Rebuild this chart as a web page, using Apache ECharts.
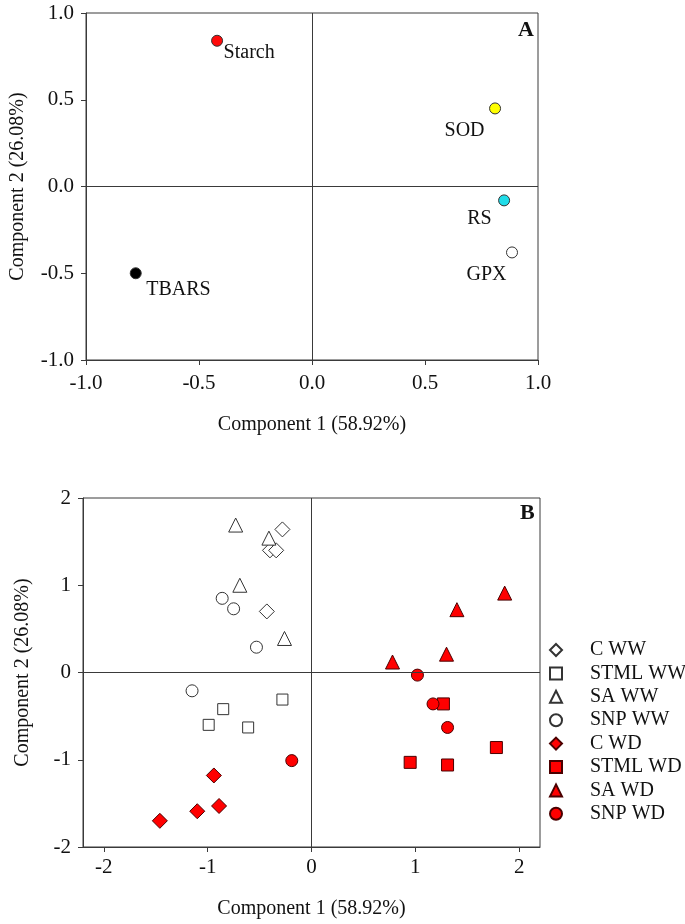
<!DOCTYPE html>
<html>
<head>
<meta charset="utf-8">
<script src="https://cdn.jsdelivr.net/npm/echarts@6/dist/echarts.min.js"></script>
<style>
html,body{margin:0;padding:0;background:#fff;}
#c{width:685px;height:924px;}
</style>
</head>
<body>
<div id="c"></div>
<script>
// ---------- Panel A: variable loadings ----------
const loadNames = ['Starch', 'SOD', 'RS', 'GPX', 'TBARS'];
const loadX = [-0.42, 0.81, 0.85, 0.885, -0.78];
const loadY = [0.84, 0.45, -0.08, -0.38, -0.50];

// ---------- Panel B: scores ----------
const groupNames = ['C WW', 'STML WW', 'SA WW', 'SNP WW', 'C WD', 'STML WD', 'SA WD', 'SNP WD'];
const cWW_x = [-0.28, -0.40, -0.34, -0.43];
const cWW_y = [1.64, 1.40, 1.40, 0.70];
const stmlWW_x = [-0.28, -0.85, -0.99, -0.61];
const stmlWW_y = [-0.31, -0.42, -0.60, -0.63];
const saWW_x = [-0.73, -0.41, -0.69, -0.26];
const saWW_y = [1.69, 1.54, 1.00, 0.39];
const snpWW_x = [-0.86, -0.75, -0.53, -1.15];
const snpWW_y = [0.85, 0.73, 0.29, -0.21];
const cWD_x = [-0.94, -0.89, -1.10, -1.46];
const cWD_y = [-1.18, -1.53, -1.59, -1.70];
const stmlWD_x = [1.27, 0.95, 1.31, 1.78];
const stmlWD_y = [-0.36, -1.03, -1.06, -0.86];
const saWD_x = [1.86, 1.40, 1.30, 0.78];
const saWD_y = [0.91, 0.72, 0.21, 0.12];
const snpWD_x = [1.02, 1.17, 1.31, -0.19];
const snpWD_y = [-0.03, -0.36, -0.63, -1.01];

const xTicksB = [-2, -1, 0, 1, 2];

// ---------- styles ----------
const FONT = 'Liberation Serif, Times New Roman, serif';
const AXC = '#3a3a3a';
const loadColors = ['#ff0a0a', '#ffff00', '#20dce8', '#ffffff', '#000000'];
const loadLabel = [
  {position: [12.5, 17.5], align: 'left'},
  {position: [-4.5, 28.5], align: 'right'},
  {position: [-6.5, 24.5], align: 'right'},
  {position: [0.5, 28.5], align: 'right'},
  {position: [16.5, 22.5], align: 'left'}
];
const groupSymbol = ['diamond', 'rect', 'triangle', 'circle', 'diamond', 'rect', 'triangle', 'circle'];
const groupSize = [15, 11, 14, 12, 15, 12, 14, 12];
const groupFill = ['#ffffff', '#ffffff', '#ffffff', '#ffffff', '#ff0000', '#ff0000', '#ff0000', '#ff0000'];
const groupBorder = ['#333', '#333', '#333', '#333', '#4a0000', '#4a0000', '#4a0000', '#4a0000'];

const groupX = [cWW_x, stmlWW_x, saWW_x, snpWW_x, cWD_x, stmlWD_x, saWD_x, snpWD_x];
const groupY = [cWW_y, stmlWW_y, saWW_y, snpWW_y, cWD_y, stmlWD_y, saWD_y, snpWD_y];

const zeroLines = {
  silent: true, symbol: 'none', animation: false,
  label: {show: false},
  lineStyle: {color: AXC, width: 1, type: 'solid'},
  emphasis: {disabled: true},
  data: [{xAxis: 0}, {yAxis: 0}]
};

function axisBase() {
  return {
    type: 'value',
    axisLine: {show: true, onZero: false, lineStyle: {color: AXC, width: 1}},
    axisTick: {show: true, inside: false, length: 5, lineStyle: {color: AXC}},
    splitLine: {show: false},
    axisLabel: {color: '#111', fontFamily: FONT, fontSize: 21},
    nameTextStyle: {color: '#111', fontFamily: FONT, fontSize: 20},
    nameLocation: 'middle'
  };
}

const xA = Object.assign(axisBase(), {
  gridIndex: 0, min: -1, max: 1, interval: 0.5,
  name: 'Component 1 (58.92%)', nameGap: 55
});
xA.axisLabel = Object.assign({}, xA.axisLabel, {margin: 13, formatter: v => v.toFixed(1)});

const yA = Object.assign(axisBase(), {
  gridIndex: 0, min: -1, max: 1, interval: 0.5,
  name: 'Component 2 (26.08%)', nameGap: 58
});
yA.axisLabel = Object.assign({}, yA.axisLabel, {margin: 12, formatter: v => v.toFixed(1)});

const xB = Object.assign(axisBase(), {
  gridIndex: 1, min: -2.2, max: 2.2,
  name: 'Component 1 (58.92%)', nameGap: 52
});
xB.axisTick = Object.assign({}, xB.axisTick, {customValues: xTicksB});
xB.axisLabel = Object.assign({}, xB.axisLabel, {margin: 10, customValues: xTicksB});

const yB = Object.assign(axisBase(), {
  gridIndex: 1, min: -2, max: 2, interval: 1,
  name: 'Component 2 (26.08%)', nameGap: 50
});
yB.axisLabel = Object.assign({}, yB.axisLabel, {margin: 12});

const series = [];
series.push({
  type: 'scatter', xAxisIndex: 0, yAxisIndex: 0,
  symbol: 'circle', symbolSize: 11,
  itemStyle: {borderColor: '#333', borderWidth: 1, opacity: 1},
  label: {show: true, formatter: '{b}', fontFamily: FONT, fontSize: 20, color: '#111', verticalAlign: 'middle'},
  data: loadNames.map((n, i) => ({
    name: n, value: [loadX[i], loadY[i]],
    itemStyle: {color: loadColors[i]},
    label: {position: loadLabel[i].position, align: loadLabel[i].align}
  })),
  markLine: zeroLines,
  animation: false
});

groupNames.forEach((g, k) => {
  const s = {
    type: 'scatter', name: g, xAxisIndex: 1, yAxisIndex: 1,
    symbol: groupSymbol[k], symbolSize: groupSize[k],
    itemStyle: {color: groupFill[k], borderColor: groupBorder[k], borderWidth: 1, opacity: 1},
    data: groupX[k].map((x, i) => [x, groupY[k][i]]),
    animation: false
  };
  if (k === 0) s.markLine = zeroLines;
  series.push(s);
});

const option = {
  backgroundColor: '#fff',
  animation: false,
  title: [
    {text: 'A', left: 518, top: 19, padding: 0, textStyle: {fontFamily: FONT, fontWeight: 'bold', fontSize: 22, color: '#111'}},
    {text: 'B', left: 520, top: 502, padding: 0, textStyle: {fontFamily: FONT, fontWeight: 'bold', fontSize: 22, color: '#111'}}
  ],
  grid: [
    {left: 85, top: 13, width: 453, height: 347, show: true, borderColor: AXC, borderWidth: 1, backgroundColor: 'transparent'},
    {left: 83, top: 498, width: 457, height: 349, show: true, borderColor: AXC, borderWidth: 1, backgroundColor: 'transparent'}
  ],
  xAxis: [xA, xB],
  yAxis: [yA, yB],
  legend: {
    orient: 'vertical', left: 549, top: 640,
    itemWidth: 12, itemHeight: 12, itemGap: 3.4,
    padding: 0,
    data: groupNames,
    selectedMode: false,
    textStyle: {fontFamily: FONT, fontSize: 20, color: '#111', lineHeight: 20, padding: [0, 0, 0, 23]}
  },
  series: series
};

const chart = echarts.init(document.getElementById('c'), null, {renderer: 'canvas'});
chart.setOption(option);
</script>
</body>
</html>
